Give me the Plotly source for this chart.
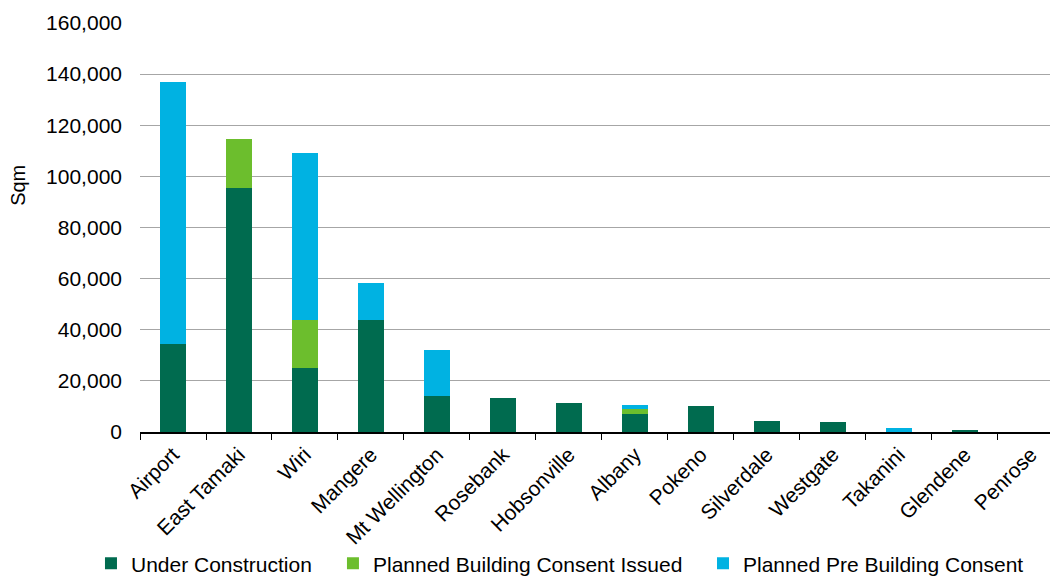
import plotly.graph_objects as go

suburbs = ["Airport", "East Tamaki", "Wiri", "Mangere", "Mt Wellington", "Rosebank",
           "Hobsonville", "Albany", "Pokeno", "Silverdale", "Westgate", "Takanini",
           "Glendene", "Penrose"]
under_construction = [34400, 95500, 25000, 43800, 14100, 13300, 11300, 7200, 10100, 4200, 3800, 0, 600, 0]
consent_issued = [0, 19100, 18800, 0, 0, 0, 0, 1700, 0, 0, 0, 0, 0, 0]
pre_consent = [102600, 0, 65400, 14500, 18000, 0, 0, 1500, 0, 0, 0, 1400, 0, 0]

FONT = "Liberation Sans, Arial, sans-serif"

fig = go.Figure()
fig.add_bar(x=suburbs, y=under_construction, name="Under Construction",
            marker=dict(color="#006B4F", line=dict(width=0)), legend="legend")
fig.add_bar(x=suburbs, y=consent_issued, name="Planned Building Consent Issued",
            marker=dict(color="#6CBE2D", line=dict(width=0)), legend="legend2")
fig.add_bar(x=suburbs, y=pre_consent, name="Planned Pre Building Consent",
            marker=dict(color="#00B2E2", line=dict(width=0)), legend="legend3")

# page has an 8px body margin, so the figure is 8px smaller than the window
leg = dict(orientation="h", xanchor="left", y=-0.322, yanchor="middle",
           font=dict(size=21), itemwidth=30, bgcolor="rgba(0,0,0,0)")
fig.update_layout(
    barmode="stack", bargap=0.6,
    width=1050, height=572,
    margin=dict(l=132, r=0, t=15, b=148, autoexpand=False),
    plot_bgcolor="white", paper_bgcolor="white",
    font=dict(family=FONT, size=21, color="black"),
    showlegend=True,
    legend=dict(leg, x=-0.0534),
    legend2=dict(leg, x=0.2102),
    legend3=dict(leg, x=0.6133),
)
# y title placed by hand, it sits above the plot centre
fig.add_annotation(text="Sqm", xref="paper", yref="paper", x=-0.133, y=0.604,
                   xanchor="center", yanchor="middle",
                   textangle=-90, showarrow=False, font=dict(size=20))
fig.update_xaxes(range=[-0.5, 13.41], tickangle=-45, showline=True, linecolor="black",
                 linewidth=2, ticks="outside", ticklen=6, tickcolor="black",
                 tickson="boundaries", showgrid=False, automargin=False)
fig.update_yaxes(range=[0, 160000], dtick=20000, tickformat=",", showgrid=True,
                 gridcolor="#A6A6A6", gridwidth=1, zeroline=False, ticks="",
                 ticklabelstandoff=17, automargin=False)

fig.write_html("out.html")
